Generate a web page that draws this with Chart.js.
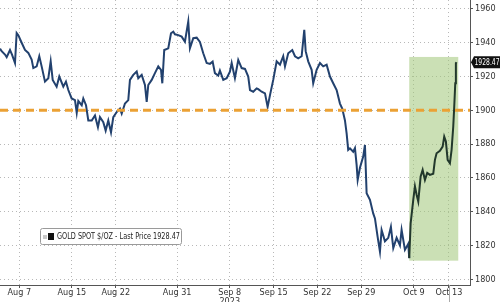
<!DOCTYPE html>
<html>
<head>
<meta charset="utf-8">
<script src="https://cdn.jsdelivr.net/npm/chart.js@4.4.0/dist/chart.umd.min.js"></script>
<style>
  html, body { margin: 0; padding: 0; background: #fff; }
  #wrap { width: 500px; height: 302px; }
</style>
</head>
<body>
<div id="wrap"><canvas id="goldChart" width="500" height="302"></canvas></div>
<script>
// x = trading days counted from Mon Aug 7 2023 (weekends skipped)
const sessionDays = [
  -2.20, -2.01, -1.63, -1.44, -1.06, -0.83, -0.49, -0.30, -0.11, 0.27, 0.65, 1.03, 1.41, 1.60, 1.98,
  2.28, 2.55, 2.93, 3.31, 3.58, 3.81, 4.26, 4.56, 5.02, 5.32, 5.59, 5.97, 6.35, 6.55, 6.73,
  7.12, 7.30, 7.61, 7.87, 8.26, 8.63, 8.97, 9.20, 9.58, 9.85, 10.15, 10.46, 10.72, 11.11, 11.48,
  11.68, 12.05, 12.43, 12.62, 13.00, 13.39, 13.57, 13.96, 14.33, 14.53, 14.71, 15.10, 15.47, 15.85, 16.16,
  16.31, 16.53, 16.99, 17.30, 17.56, 17.75, 18.13, 18.52, 18.89, 19.27, 19.46, 19.84, 20.23, 20.60, 20.98,
  21.37, 21.74, 22.05, 22.31, 22.69, 22.88, 23.26, 23.65, 24.02, 24.22, 24.59, 24.97, 25.36, 25.74, 26.11,
  26.31, 26.68, 27.07, 27.25, 27.64, 28.02, 28.32, 28.59, 28.96, 29.35, 29.73, 30.10, 30.30, 30.67, 31.13,
  31.44, 31.81, 32.20, 32.50, 32.66, 32.95, 33.34, 33.52, 33.91, 34.29, 34.66, 35.05, 35.43, 35.80, 36.19,
  36.57, 36.83, 37.14, 37.33, 37.51, 37.71, 38.08, 38.28, 38.47, 38.59, 38.85, 39.22, 39.42, 39.61, 39.99,
  40.36, 40.56, 40.87, 41.13, 41.32, 41.70, 42.08, 42.38, 42.65, 43.03, 43.41, 43.60, 43.98, 44.36, 44.47,
  44.63, 44.93, 45.12, 45.31, 45.50, 45.77, 46.00, 46.26, 46.52, 46.83, 47.21, 47.40, 47.59, 47.97, 48.28,
  48.46, 48.65, 48.85, 49.11, 49.30, 49.49, 49.60, 49.72, 49.79, 49.87
];
const goldPrice = [
  1936.5, 1935, 1933, 1931.5, 1935.7, 1933, 1928, 1945.8, 1944.5, 1940, 1935.7, 1934, 1930, 1925, 1926,
  1932, 1926, 1917, 1919, 1929, 1918, 1914, 1920, 1914, 1917, 1912, 1907, 1906, 1898.5, 1905.5,
  1903, 1907, 1903, 1894, 1894, 1897, 1890, 1896, 1893, 1888, 1894, 1887, 1896, 1899, 1901,
  1898, 1904, 1906, 1918, 1921, 1923, 1919, 1921, 1915, 1905, 1915, 1918, 1922, 1926, 1924,
  1916, 1935.7, 1936.7, 1945.6, 1946.6, 1945, 1944.5, 1943.6, 1940.6, 1952.5, 1936.7, 1942.7, 1943, 1940.5, 1933.8,
  1928, 1927.5, 1928.8, 1922, 1920.5, 1923.5, 1918, 1919, 1922.9, 1928, 1919, 1929.8, 1925, 1924.5, 1920,
  1912, 1911, 1913, 1912.5, 1911, 1910, 1902, 1909, 1918, 1929, 1927, 1932, 1926, 1933.8, 1935.7,
  1932, 1930.8, 1932, 1947.6, 1935, 1929, 1924, 1916, 1924, 1928, 1926, 1927, 1920, 1916, 1912,
  1904, 1901, 1894, 1886.4, 1876.6, 1877.5, 1875.5, 1877.6, 1867.7, 1858.8, 1866, 1872.6, 1879.5, 1850.9, 1847,
  1839, 1836, 1825, 1816.4, 1829.2, 1822.5, 1824.5, 1831, 1818.5, 1824.5, 1820, 1829.2, 1817.4, 1821, 1812.5,
  1833, 1847, 1855, 1850, 1846, 1860.8, 1864.7, 1858.8, 1863, 1861.8, 1862.5, 1870.7, 1874.6, 1876, 1878.5,
  1884.4, 1881.5, 1870.7, 1868.7, 1876.6, 1890.4, 1902, 1916, 1927.9, 1928.47
];
const dateTickDays = [0, 6, 11, 18, 24, 29, 34, 39, 45, 49];
const dateTickLabels = ['Aug 7', 'Aug 15', 'Aug 22', 'Aug 31', ['Sep 8', '2023'], 'Sep 15', 'Sep 22', 'Sep 29', 'Oct 9', 'Oct 13'];
const priceTicks = [1800, 1820, 1840, 1860, 1880, 1900, 1920, 1940, 1960];
const lastPrice = 1928.47;
const refLevel = 1900;
const boxDays = [44.47, 50.06];
const boxPrices = [1811, 1931.6];
const seriesName = 'GOLD SPOT $/OZ - Last Price ' + lastPrice.toFixed(2);

const FONT = "'Liberation Sans Narrow', 'DejaVu Sans Condensed', 'Arial Narrow', sans-serif";
const Y_MIN = 1796.6, Y_MAX = 1965.3;

const overlays = {
  id: 'overlays',
  beforeDatasetsDraw(chart) {
    const {ctx, scales: {x, y}} = chart;
    const x0 = x.getPixelForValue(boxDays[0]), x1 = x.getPixelForValue(boxDays[1]);
    const y0 = y.getPixelForValue(boxPrices[1]), y1 = y.getPixelForValue(boxPrices[0]);
    ctx.save();
    ctx.fillStyle = 'rgba(160, 198, 120, 0.55)';
    ctx.fillRect(x0, y0, x1 - x0, y1 - y0);
    ctx.restore();
  },
  afterDatasetsDraw(chart) {
    const {ctx, chartArea: a, scales: {y}} = chart;
    const yl = y.getPixelForValue(refLevel);
    ctx.save();
    ctx.strokeStyle = '#eba134';
    ctx.lineWidth = 3;
    ctx.setLineDash([8, 5]);
    ctx.beginPath();
    ctx.moveTo(a.left, yl);
    ctx.lineTo(a.right, yl);
    ctx.stroke();
    ctx.restore();
  },
  afterDraw(chart) {
    const {ctx, chartArea: a, scales: {x, y}} = chart;
    ctx.save();
    // marker under last date
    const xm = Math.round(x.getPixelForValue(49));
    ctx.strokeStyle = '#aaa';
    ctx.lineWidth = 1;
    ctx.beginPath();
    ctx.moveTo(xm + 0.5, a.bottom);
    ctx.lineTo(xm + 0.5, 302);
    ctx.stroke();

    // last price tag
    const yp = y.getPixelForValue(lastPrice);
    ctx.fillStyle = '#111';
    ctx.beginPath();
    ctx.moveTo(471, yp);
    ctx.lineTo(474, yp - 6);
    ctx.lineTo(500, yp - 6);
    ctx.lineTo(500, yp + 6);
    ctx.lineTo(474, yp + 6);
    ctx.closePath();
    ctx.fill();
    ctx.fillStyle = '#fff';
    ctx.font = '9px ' + FONT;
    ctx.textBaseline = 'middle';
    ctx.textAlign = 'left';
    const tag = lastPrice.toFixed(2);
    const tw = ctx.measureText(tag).width;
    ctx.save();
    ctx.translate(474.5, yp + 0.5);
    ctx.scale(Math.min(1, 25 / tw), 1);
    ctx.fillText(tag, 0, 0);
    ctx.restore();

    // legend box
    ctx.fillStyle = '#fff';
    ctx.strokeStyle = '#9a9a9a';
    ctx.lineWidth = 1;
    ctx.beginPath();
    ctx.roundRect(40.5, 228.5, 141, 16, 2);
    ctx.fill();
    ctx.stroke();
    ctx.fillStyle = '#c8c8c8';
    ctx.fillRect(43, 235, 4, 4);
    ctx.fillStyle = '#111';
    ctx.fillRect(48, 233, 6, 7);
    ctx.fillStyle = '#222';
    ctx.font = '9px ' + FONT;
    const w = ctx.measureText(seriesName).width;
    ctx.translate(57, 237);
    ctx.scale(Math.min(1, 123 / w), 1);
    ctx.fillText(seriesName, 0, 0);
    ctx.restore();
  }
};

new Chart(document.getElementById('goldChart'), {
  type: 'line',
  data: {
    datasets: [{
      label: seriesName,
      data: sessionDays.map((d, i) => ({x: d, y: goldPrice[i]})),
      borderColor: '#22416e',
      borderWidth: 2,
      pointRadius: 0,
      tension: 0,
      segment: {
        borderColor: c => c.p0.parsed.x >= boxDays[0] ? '#22382c' : '#22416e'
      }
    }]
  },
  options: {
    responsive: false,
    animation: false,
    devicePixelRatio: 1,
    layout: {padding: 0},
    plugins: {legend: {display: false}, tooltip: {enabled: false}},
    scales: {
      x: {
        type: 'linear',
        min: -2.2,
        max: 51.4,
        afterBuildTicks(scale) {
          const t = [];
          for (let d = -2; d <= 51; d++) t.push({value: d});
          scale.ticks = t;
        },
        // fixed axis band, no edge padding
        afterFit(scale) { scale.height = 17; scale.paddingLeft = 0; scale.paddingRight = 0; },
        ticks: {
          autoSkip: false,
          maxRotation: 0,
          padding: 0,
          color: '#333',
          font: {size: 9, family: FONT, lineHeight: 1},
          callback(v) {
            const i = dateTickDays.indexOf(v);
            return i >= 0 ? dateTickLabels[i] : null;
          }
        },
        grid: {
          color: c => (c.tick && dateTickDays.includes(c.tick.value)) ? '#b8b8b8' : 'transparent',
          tickColor: '#555',
          tickLength: 3
        },
        border: {display: true, color: '#555', width: 1, dash: [1, 3]}
      },
      y: {
        type: 'linear',
        position: 'right',
        min: Y_MIN,
        max: Y_MAX,
        afterBuildTicks(scale) {
          const t = [{value: Y_MIN}];
          for (let v = 1800; v <= 1960; v += 10) t.push({value: v});
          t.push({value: Y_MAX});
          scale.ticks = t;
        },
        afterFit(scale) { scale.width = 30; scale.paddingTop = 0; scale.paddingBottom = 0; },
        ticks: {
          padding: 2,
          color: '#333',
          font: {size: 9, family: FONT},
          callback: v => priceTicks.includes(v) ? String(v) : null
        },
        grid: {
          color: c => (c.tick && priceTicks.includes(c.tick.value)) ? '#b8b8b8' : 'transparent',
          tickColor: c => (c.tick && c.tick.value % 10 === 0) ? '#555' : 'transparent',
          tickLength: 3
        },
        border: {display: true, color: '#555', width: 1, dash: [1, 3]}
      }
    }
  },
  plugins: [overlays]
});
</script>
</body>
</html>
